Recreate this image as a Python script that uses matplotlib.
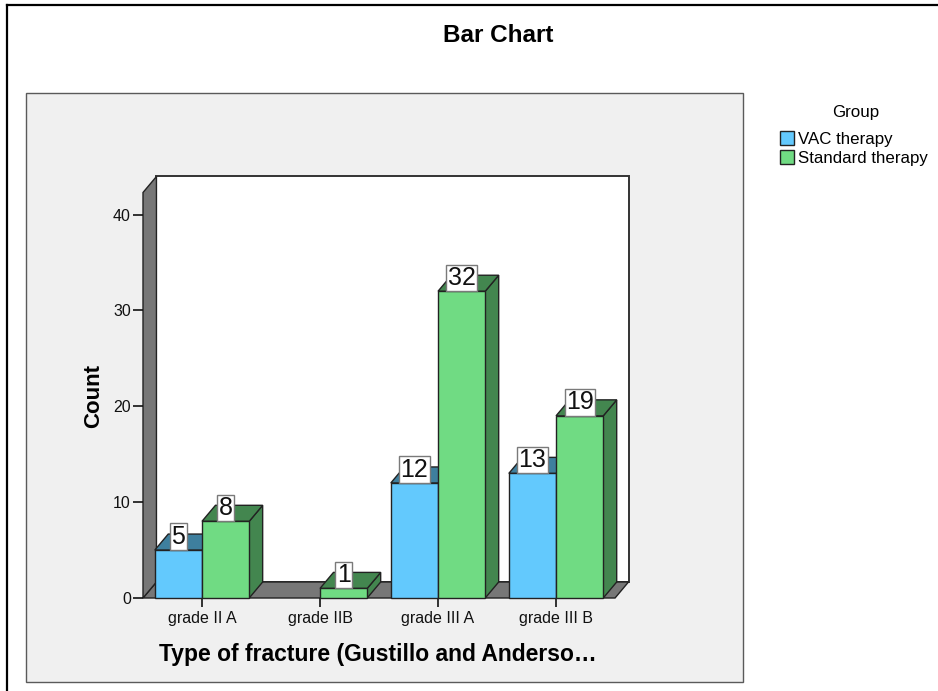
import matplotlib
matplotlib.use("Agg")
import matplotlib.pyplot as plt
from matplotlib.patches import Polygon, Rectangle, Patch
from matplotlib.lines import Line2D

# Counts per fracture type and treatment group
categories = ["grade II A", "grade IIB", "grade III A", "grade III B"]
vac_therapy = [5, 0, 12, 13]
standard_therapy = [8, 1, 32, 19]
series_names = ["VAC therapy", "Standard therapy"]
y_ticks = [0, 10, 20, 30, 40]

plt.rcParams['font.family'] = ['Liberation Sans', 'DejaVu Sans']

W, H = 938, 691
fig = plt.figure(figsize=(W / 100, H / 100), dpi=100)
fig.patch.set_facecolor('white')


def fx(px):
    return px / W


def fy(py):
    return 1 - py / H


# Outer frame (left and top edges)
fig.add_artist(Line2D([fx(7), fx(7)], [fy(5), fy(691)], color='black', lw=1.6))
fig.add_artist(Line2D([fx(7), 1], [fy(5), fy(5)], color='black', lw=1.6))
# Grey chart panel
fig.add_artist(Rectangle((fx(26), fy(682)), fx(743) - fx(26), fy(93) - fy(682),
                         facecolor='#F0F0F0', edgecolor='#5a5a5a', lw=1.0, zorder=0))

blue_front, blue_dark = '#63C9FD', '#3E7F9E'
green_front, green_dark = '#70DB83', '#43864F'
wall = '#777777'
edge = '#222222'

depth_x = 0.114   # depth offset in category units
depth_y = 1.67    # depth offset in count units
wall_top = 42.3
bar_w = 0.4

ax = fig.add_axes([fx(143), fy(598), (628.5 - 143) / W, (598 - 176.5) / H])
ax.set_facecolor('none')
for s in ax.spines.values():
    s.set_visible(False)
ax.set_xlim(-0.5, 3.5 + depth_x)
ax.set_ylim(0, wall_top + depth_y)

x0, x1 = -0.5, len(categories) - 0.5
# floor
ax.add_patch(Polygon([(x0, 0), (x1, 0), (x1 + depth_x, depth_y), (x0 + depth_x, depth_y)],
                     closed=True, fc=wall, ec=edge, lw=1.0, clip_on=False, zorder=1))
# left wall
ax.add_patch(Polygon([(x0, 0), (x0 + depth_x, depth_y), (x0 + depth_x, wall_top + depth_y),
                      (x0, wall_top)],
                     closed=True, fc=wall, ec=edge, lw=1.0, clip_on=False, zorder=1))
# back wall
ax.add_patch(Rectangle((x0 + depth_x, depth_y), x1 - x0, wall_top,
                       fc='white', ec='#333333', lw=1.4, clip_on=False, zorder=0.9))


def bar3d(left, h, front, dark):
    if h <= 0:
        return
    r = left + bar_w
    ax.add_patch(Polygon([(r, 0), (r + depth_x, depth_y), (r + depth_x, h + depth_y), (r, h)],
                         closed=True, fc=dark, ec=edge, lw=1.0, clip_on=False, zorder=2))
    ax.add_patch(Polygon([(left, h), (r, h), (r + depth_x, h + depth_y), (left + depth_x, h + depth_y)],
                         closed=True, fc=dark, ec=edge, lw=1.0, clip_on=False, zorder=2))
    ax.add_patch(Rectangle((left, 0), bar_w, h, fc=front, ec=edge, lw=1.0,
                           clip_on=False, zorder=2))
    ax.annotate(str(h), xy=(left + bar_w / 2, h), xytext=(0, 1.0), textcoords='offset points',
                ha='center', va='bottom', fontsize=18, color='#111111', zorder=3,
                family=['Liberation Sans Narrow', 'Liberation Sans', 'DejaVu Sans'],
                annotation_clip=False,
                bbox=dict(boxstyle='square,pad=0.05', fc='white', ec='#7a7a7a', lw=1.0))


for i in range(len(categories)):
    bar3d(i - bar_w, vac_therapy[i], blue_front, blue_dark)
    bar3d(i, standard_therapy[i], green_front, green_dark)

ax.set_yticks(y_ticks)
ax.set_xticks(range(len(categories)))
ax.set_xticklabels(categories)
ax.tick_params(axis='y', length=7.2, width=1.2, pad=1.5, labelsize=11.5, colors='#111111')
ax.tick_params(axis='x', length=6.5, width=1.2, pad=3, labelsize=11.5, colors='#111111')

fig.text(fx(93.5), fy(396), 'Count', rotation=90, ha='center', va='center',
         fontsize=16, fontweight='bold')
fig.text(fx(378), fy(655), 'Type of fracture (Gustillo and Anderso\u2026', ha='center', va='center',
         fontsize=16.5, fontweight='bold')
fig.text(fx(498.5), fy(36), 'Bar Chart', ha='center', va='center', fontsize=17.5, fontweight='bold')

fig.text(fx(856), fy(113), 'Group', ha='center', va='center', fontsize=12.2)
handles = [Patch(fc=blue_front, ec=edge, lw=1.0), Patch(fc=green_front, ec=edge, lw=1.0)]
fig.legend(handles=handles, labels=series_names, loc='upper left',
           bbox_to_anchor=(fx(780), fy(131)), frameon=False, fontsize=12.2,
           handlelength=0.85, handleheight=0.85, handletextpad=0.2, labelspacing=0.22,
           borderaxespad=0, borderpad=0)

fig.savefig('out.png', dpi=100, facecolor='white')
